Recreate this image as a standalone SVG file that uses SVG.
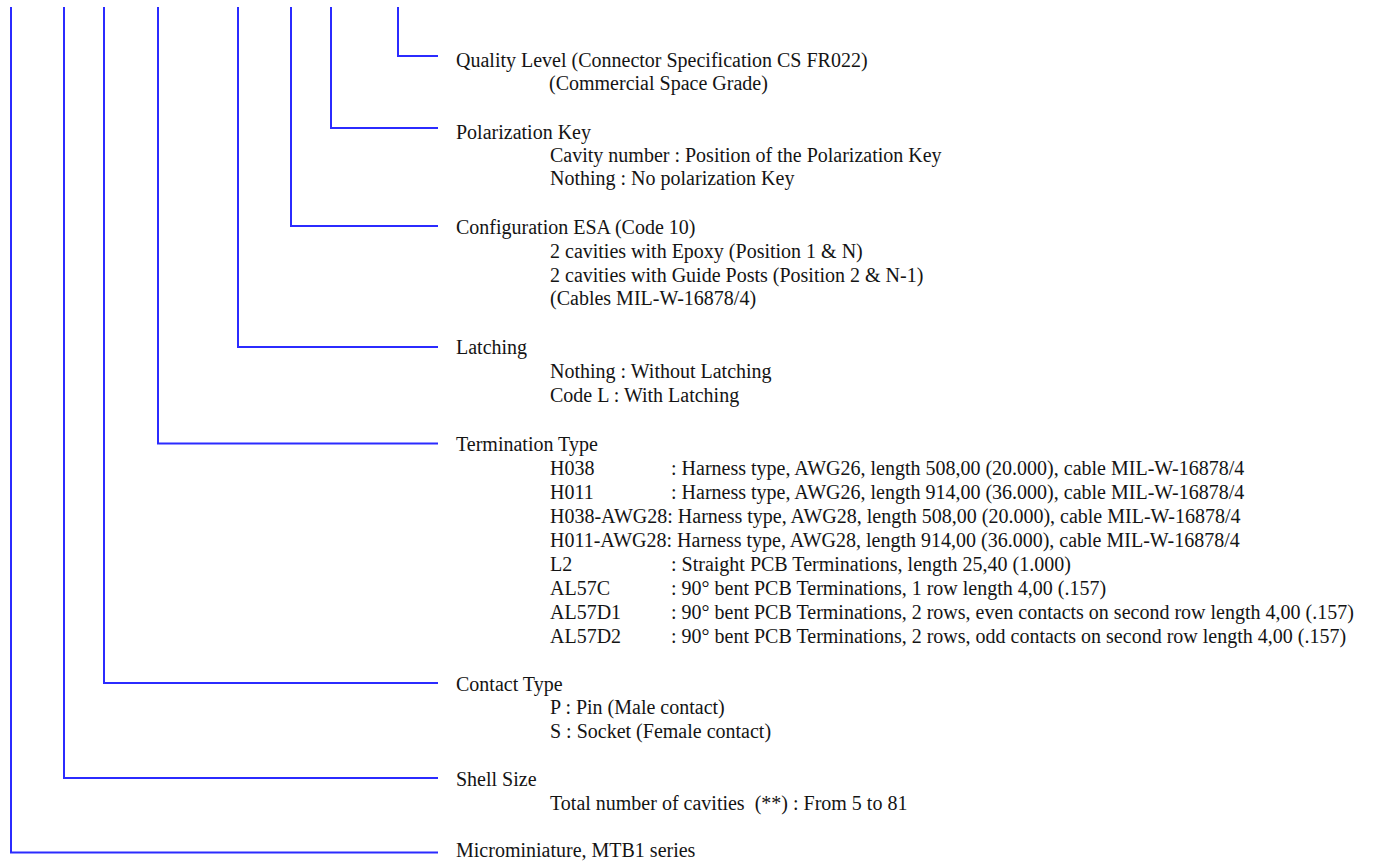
<svg xmlns="http://www.w3.org/2000/svg" width="1387" height="863" viewBox="0 0 1387 863">
<style>
  .bg { fill: #ffffff; }
  .conn { fill: none; stroke: #2b2bff; stroke-width: 2; }
  text { font-family: "Liberation Serif", "Times New Roman", serif; font-size: 20px; fill: #141414; }
</style>
<rect class="bg" x="0" y="0" width="1387" height="863"/>
<g id="connectors">
  <path class="conn" d="M398 7 V56 H438"/>
  <path class="conn" d="M331 7 V128 H438"/>
  <path class="conn" d="M291 7 V226 H438"/>
  <path class="conn" d="M238 7 V347 H438"/>
  <path class="conn" d="M158 7 V443.5 H438"/>
  <path class="conn" d="M104 7 V683 H438"/>
  <path class="conn" d="M64 7 V778 H438"/>
  <path class="conn" d="M11 7 V852.5 H438"/>
</g>
<g id="quality-level">
  <text x="456" y="67">Quality Level (Connector Specification CS FR022)</text>
  <text x="549" y="90">(Commercial Space Grade)</text>
</g>
<g id="polarization-key">
  <text x="456" y="138.5">Polarization Key</text>
  <text x="550" y="162">Cavity number : Position of the Polarization Key</text>
  <text x="550" y="185">Nothing : No polarization Key</text>
</g>
<g id="configuration">
  <text x="456" y="234">Configuration ESA (Code 10)</text>
  <text x="550" y="258">2 cavities with Epoxy (Position 1 &amp; N)</text>
  <text x="550" y="281.5">2 cavities with Guide Posts (Position 2 &amp; N-1)</text>
  <text x="550" y="305">(Cables MIL-W-16878/4)</text>
</g>
<g id="latching">
  <text x="456" y="354">Latching</text>
  <text x="550" y="378">Nothing : Without Latching</text>
  <text x="550" y="401.5">Code L : With Latching</text>
</g>
<g id="termination-type">
  <text x="456" y="450.5">Termination Type</text>
  <text y="474.5"><tspan x="550">H038</tspan><tspan x="671">: Harness type, AWG26, length 508,00 (20.000), cable MIL-W-16878/4</tspan></text>
  <text y="498.5"><tspan x="550">H011</tspan><tspan x="671">: Harness type, AWG26, length 914,00 (36.000), cable MIL-W-16878/4</tspan></text>
  <text x="550" y="522.5">H038-AWG28: Harness type, AWG28, length 508,00 (20.000), cable MIL-W-16878/4</text>
  <text x="550" y="546.5">H011-AWG28: Harness type, AWG28, length 914,00 (36.000), cable MIL-W-16878/4</text>
  <text y="570.5"><tspan x="550">L2</tspan><tspan x="671">: Straight PCB Terminations, length 25,40 (1.000)</tspan></text>
  <text y="594.5"><tspan x="550">AL57C</tspan><tspan x="671">: 90° bent PCB Terminations, 1 row length 4,00 (.157)</tspan></text>
  <text y="618.5"><tspan x="550">AL57D1</tspan><tspan x="671">: 90° bent PCB Terminations, 2 rows, even contacts on second row length 4,00 (.157)</tspan></text>
  <text y="642.5"><tspan x="550">AL57D2</tspan><tspan x="671">: 90° bent PCB Terminations, 2 rows, odd contacts on second row length 4,00 (.157)</tspan></text>
</g>
<g id="contact-type">
  <text x="456" y="690.5">Contact Type</text>
  <text x="550" y="714">P : Pin (Male contact)</text>
  <text x="550" y="738">S : Socket (Female contact)</text>
</g>
<g id="shell-size">
  <text x="456" y="786">Shell Size</text>
  <text x="550" y="810" xml:space="preserve">Total number of cavities  (**) : From 5 to 81</text>
</g>
<g id="series">
  <text x="456" y="857">Microminiature, MTB1 series</text>
</g>
</svg>
